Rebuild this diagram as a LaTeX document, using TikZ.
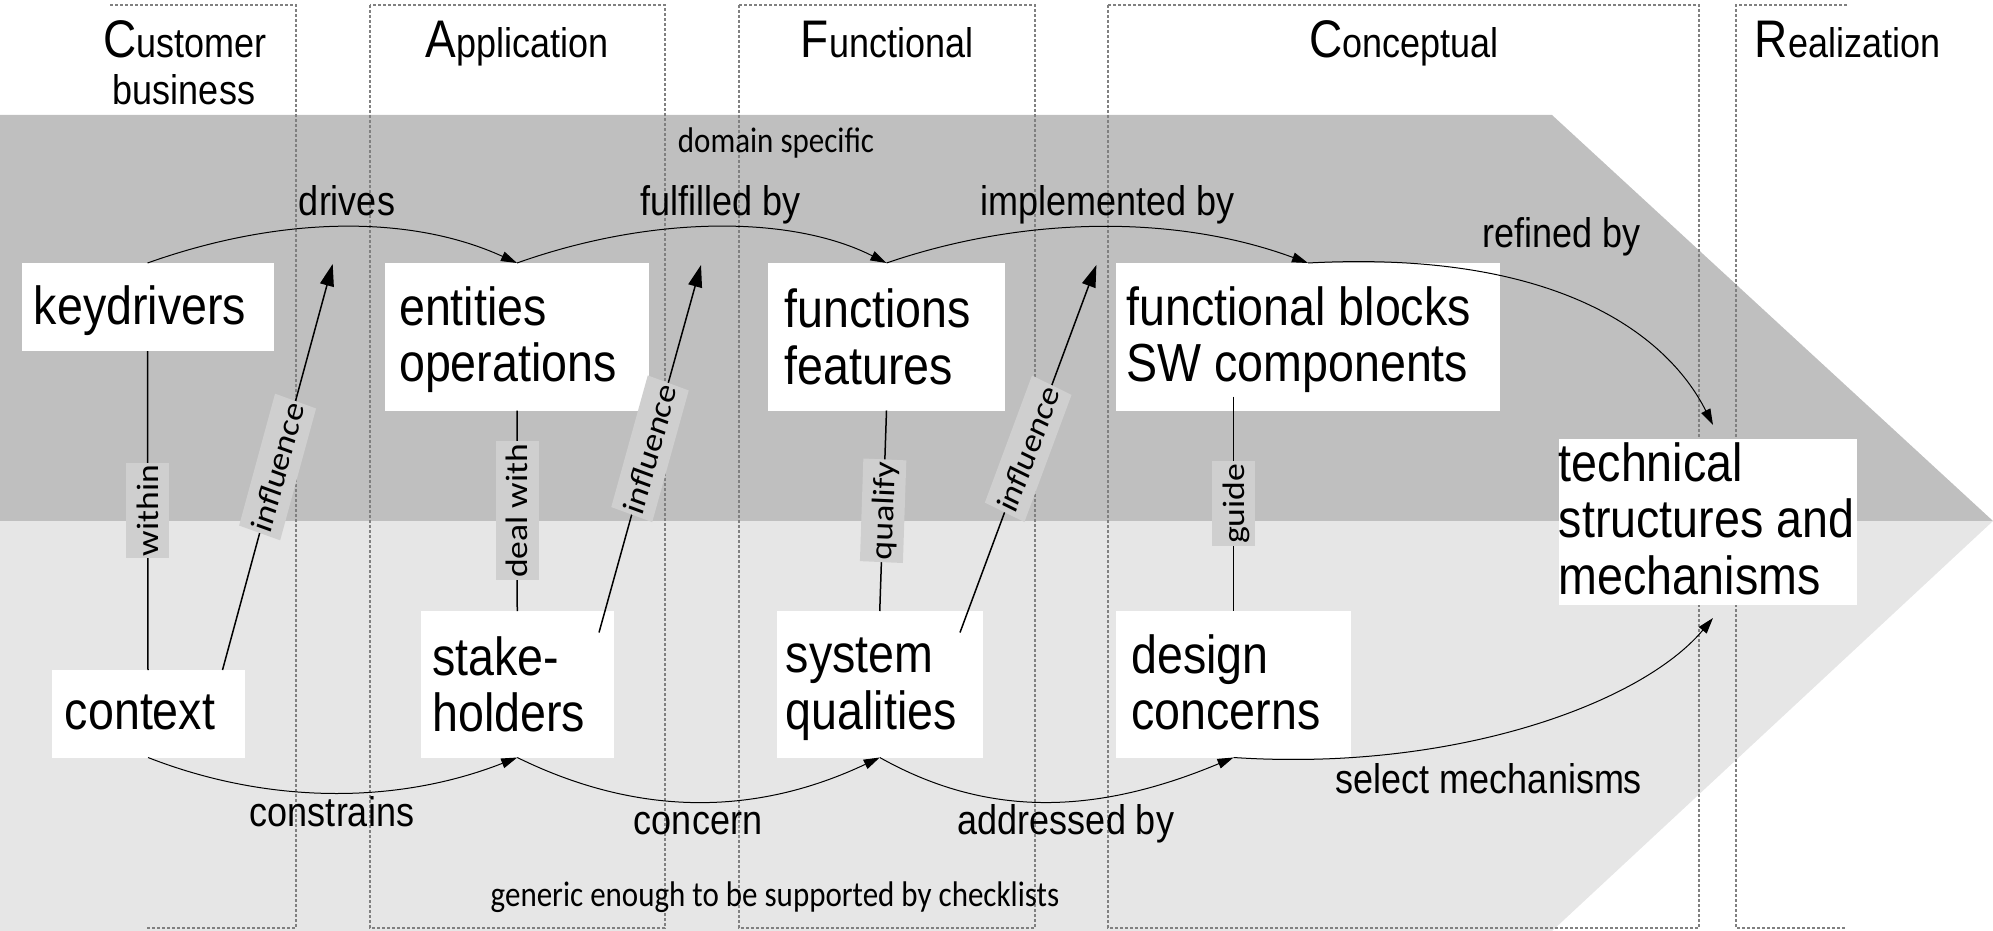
\documentclass[tikz,border=0pt]{standalone}
\usepackage{fontspec}
\setmainfont{Liberation Sans}
\newfontfamily\calibfont{Carlito}
\usetikzlibrary{arrows.meta,calc}
\definecolor{banddark}{RGB}{191,191,191}
\definecolor{bandlight}{RGB}{230,230,230}
\definecolor{lblbg}{RGB}{207,207,207}
\definecolor{colgray}{RGB}{128,128,128}
\newcommand\colhead[2]{{\fontsize{23}{24}\selectfont #1}{\fontsize{18}{20}\selectfont #2}}
\begin{document}
\begin{tikzpicture}[x=0.5pt, y=-0.5pt,
  box/.style={fill=white, draw=none, inner sep=0pt, outer sep=0pt},
  ntext/.style={font=\fontsize{23.3}{24.6}\selectfont, align=left, inner sep=0pt, anchor=west, yscale=1.15},
  elab/.style={font=\fontsize{18}{20}\selectfont, inner sep=0pt, anchor=base, yscale=1.15},
  note/.style={font=\calibfont\fontsize{15.5}{17}\selectfont, inner sep=0pt, anchor=base, yscale=1.15},
  rlab/.style={font=\calibfont\fontsize{15.5}{17}\selectfont, fill=lblbg, inner xsep=1pt, inner ysep=0pt, text height=16pt, text depth=5.5pt, yscale=1.15},
  colline/.style={draw=colgray, line width=0.6pt, dash pattern=on 1.5pt off 1pt},
  vline/.style={line width=0.75pt},
  curvearrow/.style={line width=0.5pt, -{Triangle[length=8pt,width=5pt]}},
  infarrow/.style={line width=0.75pt, -{Triangle[length=11pt,width=7pt]}},
  hdr/.style={inner sep=0pt, anchor=base, yscale=1.15}
]
\useasboundingbox (0,0) rectangle (1993,931);
% bands
\fill[banddark] (0,115) -- (1552,115) -- (1993,521) -- (0,521) -- cycle;
\fill[bandlight] (0,521) -- (1993,521) -- (1552,931) -- (0,931) -- cycle;
% columns
\draw[colline] (110,5) -- (296,5) -- (296,928) -- (147,928);
\draw[colline] (370,5) rectangle (665,928);
\draw[colline] (739,5) rectangle (1035,928);
\draw[colline] (1108,5) rectangle (1699,928);
\draw[colline] (1847,5) -- (1736,5) -- (1736,928) -- (1847,928);
% headers
\node[hdr] (h1) at (185,58) {\colhead{C}{ustomer}};
\node[hdr, font=\fontsize{18}{20}\selectfont] (h1b) at (184,105) {business};
\node[hdr] (h2) at (517,58) {\colhead{A}{pplication}};
\node[hdr] (h3) at (887,58) {\colhead{F}{unctional}};
\node[hdr] (h4) at (1404,58) {\colhead{C}{onceptual}};
\node[hdr] (h5) at (1847.5,58) {\colhead{R}{ealization}};
% notes
\node[note] (dom) at (776,152.7) {domain specific};
\node[note] (gen) at (775,906) {generic enough to be supported by checklists};
% boxes
\node[box, minimum width=126pt, minimum height=44pt] (kd) at (147.5,307) {};
\node[box, minimum width=132.25pt, minimum height=73.75pt] (ent) at (517,336.75) {};
\node[box, minimum width=118.5pt, minimum height=73.75pt] (fun) at (886.5,336.75) {};
\node[box, minimum width=192pt, minimum height=73.75pt] (fb) at (1308,336.75) {};
\node[box, minimum width=149.25pt, minimum height=83.25pt] (tech) at (1707.75,521.75) {};
\node[box, minimum width=96.5pt, minimum height=43.75pt] (ctx) at (148,713.75) {};
\node[box, minimum width=96.25pt, minimum height=73.25pt] (sh) at (517.25,684.25) {};
\node[box, minimum width=103.25pt, minimum height=73.25pt] (sq) at (879.75,684.25) {};
\node[box, minimum width=117.5pt, minimum height=73.25pt] (dc) at (1233.5,684.25) {};
% box texts
\node[ntext] (kdt) at ($(kd.west)+(12,4)$) {keydrivers};
\node[ntext] (entt) at ($(ent.west)+(14,3)$) {entities\\operations};
\node[ntext] (funt) at ($(fun.west)+(16,0)$) {functions\\features};
\node[ntext] (fbt) at ($(fb.west)+(10,3)$) {functional blocks\\SW components};
\node[ntext] (techt) at ($(tech.west)+(0,-3)$) {technical\\structures and\\mechanisms};
\node[ntext] (ctxt) at ($(ctx.west)+(13,-1)$) {context};
\node[ntext] (sht) at ($(sh.west)+(11,0)$) {stake-\\holders};
\node[ntext] (sqt) at ($(sq.west)+(9,5)$) {system\\qualities};
\node[ntext] (dct) at ($(dc.west)+(15,-2)$) {design\\concerns};
% top curves
\draw[curvearrow] (kd.north) .. controls ($(kd.north)+(135,-48)$) and ($(ent.north)+(-105,-48)$) .. (ent.north);
\draw[curvearrow] (ent.north) .. controls ($(ent.north)+(135,-48)$) and ($(fun.north)+(-95,-48)$) .. (fun.north);
\draw[curvearrow] (fun.north) .. controls ($(fun.north)+(140,-48)$) and ($(fb.north)+(-130,-48)$) .. (fb.north);
\coordinate (refend) at ($(tech.north)+(5.25,-13.5)$);
\draw[curvearrow] (fb.north) .. controls ($(fb.north)+(242,-13)$) and ($(refend)+(-48,-95)$) .. (refend);
% bottom curves
\draw[curvearrow] (ctx.south) .. controls ($(ctx.south)+(120,47)$) and ($(sh.south)+(-120,47)$) .. (sh.south);
\draw[curvearrow] (sh.south) .. controls ($(sh.south)+(120,59)$) and ($(sq.south)+(-125,59)$) .. (sq.south);
\draw[curvearrow] (sq.south) .. controls ($(sq.south)+(105,59)$) and ($(dc.south)+(-141,59)$) .. (dc.south);
\coordinate (selend) at ($(tech.south)+(5.25,13)$);
\draw[curvearrow] (dc.south) .. controls ($(dc.south)+(217,14.5)$) and ($(selend)+(-73,87)$) .. (selend);
% edge labels
\node[elab] (ldrives) at (347,215) {drives};
\node[elab] (lfulf) at (720.5,215) {fulfilled by};
\node[elab] (limpl) at (1107.5,215) {implemented by};
\node[elab] (lrefi) at (1561.5,247) {refined by};
\node[elab] (lcons) at (332,826) {constrains};
\node[elab] (lconc) at (698,834) {concern};
\node[elab] (laddr) at (1066,834) {addressed by};
\node[elab] (lsel) at (1489,793) {select mechanisms};
% vertical relations
\draw[vline] (kd.south) -- node[rlab, rotate=90] (lwithin) {within} (ctx.north);
\draw[vline] (ent.south) -- node[rlab, rotate=90] (ldeal) {deal with} (sh.north);
\draw[vline] (fun.south) -- node[rlab, rotate=87.8] (lqual) {qualify} (sq.north);
\draw[vline] ($(dc.north |- fb.south)+(0,-14)$) -- node[rlab, rotate=90] (lguide) {guide} (dc.north);
% influence arrows
\coordinate (inf1) at (332.7,264);
\coordinate (inf2) at (701,265);
\coordinate (inf3) at (1096.4,265);
\draw[infarrow] ($(ctx.north east)+(-22,0)$) -- node[rlab, rotate=72.6] (li1) {influence} (inf1);
\draw[infarrow] ($(sh.north east)+(-14.5,21.5)$) -- node[rlab, rotate=72.3] (li2) {influence} (inf2);
\draw[infarrow] ($(sq.north east)+(-23,21.5)$) -- node[rlab, rotate=66.9] (li3) {influence} (inf3);
\end{tikzpicture}
\end{document}
